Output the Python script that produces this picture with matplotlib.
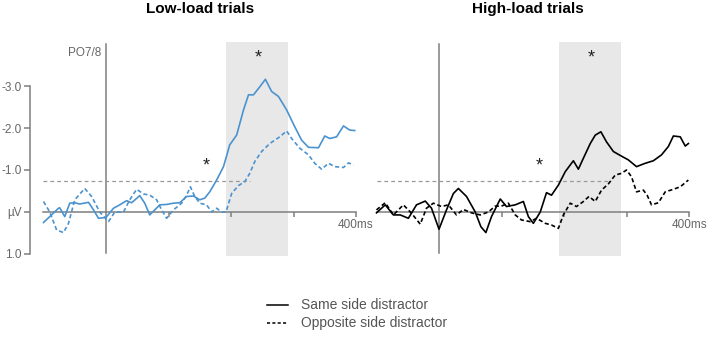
import matplotlib
matplotlib.use("Agg")
import matplotlib.pyplot as plt
from matplotlib.lines import Line2D

plt.rcParams['font.family'] = ['Liberation Sans', 'DejaVu Sans']

# ERP waveforms at PO7/8 (time in ms, amplitude in microvolts, negative up)
low_same_t = [-100, -90, -76, -74, -66, -58, -50, -42, -28, -20, -12, 0, 12, 22, 33, 41, 54, 62,
              70, 78, 86, 97, 108, 118, 129, 140, 150, 158, 166, 177, 188, 198, 209, 220, 228,
              236, 246, 255, 265, 276, 289, 302, 313, 324, 340, 350, 358, 369, 380, 390, 398]
low_same_v = [0.25, 0.11, -0.09, -0.10, 0.11, -0.21, -0.22, -0.19, -0.23, -0.05, 0.15, 0.13,
              -0.09, -0.17, -0.27, -0.22, -0.39, -0.21, 0.07, -0.05, -0.17, -0.18, -0.21, -0.22,
              -0.37, -0.38, -0.29, -0.33, -0.48, -0.76, -1.08, -1.60, -1.83, -2.43, -2.79, -2.79,
              -2.98, -3.16, -2.87, -2.75, -2.43, -2.03, -1.71, -1.54, -1.53, -1.81, -1.75, -1.79,
              -2.05, -1.95, -1.94]

low_opp_t = [-100, -90, -79, -68, -60, -50, -34, -23, -10, 4, 14, 28, 38, 49, 60, 70, 81, 89,
             97, 108, 121, 129, 135, 142, 150, 161, 169, 177, 185, 192, 201, 212, 222, 230, 238,
             249, 262, 278, 289, 297, 310, 324, 334, 345, 356, 366, 380, 388, 396]
low_opp_v = [-0.25, 0.0, 0.43, 0.49, 0.27, -0.29, -0.56, -0.37, 0.0, 0.23, 0.0, 0.0, -0.29,
             -0.54, -0.43, -0.40, -0.29, -0.05, 0.15, -0.05, -0.21, -0.40, -0.60, -0.37, -0.21,
             -0.17, 0.0, -0.09, 0.0, 0.0, -0.44, -0.63, -0.72, -0.92, -1.20, -1.44, -1.63, -1.79,
             -1.93, -1.75, -1.52, -1.36, -1.16, -1.02, -1.16, -1.08, -1.06, -1.17, -1.12]

high_same_t = [-100, -86, -73, -62, -49, -36, -22, -12, 0, 12, 23, 31, 44, 58, 67, 75, 84, 98,
               108, 122, 135, 143, 151, 162, 172, 180, 191, 202, 215, 223, 231, 242, 250, 259,
               268, 279, 292, 303, 316, 330, 343, 356, 367, 375, 386, 394, 399]
high_same_v = [0.02, -0.17, 0.07, 0.07, 0.15, -0.17, -0.26, -0.09, 0.41, -0.05, -0.44, -0.56,
               -0.37, 0.0, 0.35, 0.49, 0.11, -0.31, -0.13, -0.17, -0.25, 0.11, 0.27, 0.0, -0.46,
               -0.40, -0.64, -0.96, -1.22, -1.02, -1.28, -1.63, -1.83, -1.91, -1.67, -1.44, -1.33,
               -1.24, -1.08, -1.16, -1.22, -1.36, -1.56, -1.81, -1.79, -1.57, -1.63]

high_opp_t = [-100, -86, -73, -57, -44, -30, -20, -9, 4, 15, 28, 39, 52, 66, 79, 90, 100, 111,
              122, 132, 146, 156, 170, 180, 191, 199, 210, 220, 231, 240, 250, 260, 271, 282,
              292, 300, 308, 316, 327, 333, 340, 351, 362, 375, 386, 399]
high_opp_v = [-0.05, -0.22, 0.07, -0.17, 0.03, 0.29, -0.09, -0.21, -0.13, -0.17, 0.07, -0.06,
              0.02, 0.07, 0.0, -0.14, -0.14, -0.21, 0.07, 0.19, 0.23, 0.15, 0.27, 0.31, 0.39,
              0.07, -0.21, -0.13, -0.25, -0.37, -0.25, -0.52, -0.67, -0.88, -0.92, -1.00, -0.84,
              -0.48, -0.52, -0.40, -0.17, -0.22, -0.48, -0.54, -0.60, -0.76]

y_ticks = [1, 0, -1, -2, -3]
y_labels = ['1.0', 'µV', '-1.0', '-2.0', '-3.0']
x_ticks = [100, 200, 300, 400]
window = (192, 291)
threshold = -0.73
threshold_end = {'low': 230, 'high': 275}

blue = '#4b93cf'
grey = '#7f7f7f'

fig = plt.figure(figsize=(7.09, 3.44), dpi=100)
ax1 = fig.add_axes([30 / 709, 88 / 344, 336 / 709, 214 / 344])
ax2 = fig.add_axes([366 / 709, 88 / 344, 343 / 709, 214 / 344])


def draw_panel(ax, same_t, same_v, opp_t, opp_v, color, thr_end, xlim):
    ax.patch.set_visible(False)
    ax.set_xlim(*xlim)
    ax.set_ylim(1.048, -4.048)
    ax.axvspan(window[0], window[1], color='#e8e8e8', lw=0, zorder=0)
    ax.plot([-100, 400], [0, 0], color=grey, lw=1.1, zorder=1)
    ax.plot([0, 0], [0.98, -4.0], color=grey, lw=1.1, zorder=1)
    ax.vlines(x_ticks, 0, 0.13, color=grey, lw=1.1, zorder=1)
    ax.plot([-100, thr_end], [threshold, threshold], color='#999999', lw=0.9,
            dashes=(3, 2.5), zorder=2)
    ax.plot(same_t, same_v, color=color, lw=1.2, zorder=3)
    ax.plot(opp_t, opp_v, color=color, lw=1.2, dashes=(2.5, 1.6), zorder=3)
    ax.text(400, 0.3, '400ms', ha='center', va='center', fontsize=8.5, color='#666666',
            clip_on=False)
    ax.text(160, -1.1, '*', ha='center', va='center', fontsize=13, color='#222222')
    ax.text(243, -3.67, '*', ha='center', va='center', fontsize=13, color='#222222')
    ax.set_xticks([])
    for s in ['top', 'right', 'bottom']:
        ax.spines[s].set_visible(False)


draw_panel(ax1, low_same_t, low_same_v, low_opp_t, low_opp_v, blue, threshold_end['low'],
           (-121.6, 416))
draw_panel(ax2, high_same_t, high_same_v, high_opp_t, high_opp_v, 'black', threshold_end['high'],
           (-116.8, 432))

ax1.spines['left'].set_bounds(1, -3)
ax1.spines['left'].set_color(grey)
ax1.spines['left'].set_linewidth(1.1)
ax1.set_yticks(y_ticks)
ax1.set_yticklabels(y_labels)
ax1.tick_params(axis='y', length=4, width=1.1, color=grey, labelcolor='#666666',
                labelsize=8.5, pad=2)
ax1.text(-8, -3.79, 'PO7/8', ha='right', va='center', fontsize=8.5, color='#666666')

ax2.spines['left'].set_visible(False)
ax2.set_yticks([])

fig.text(200 / 709, 1 - 9 / 344, 'Low-load trials', ha='center', va='center',
         fontsize=11, fontweight='bold')
fig.text(528 / 709, 1 - 9 / 344, 'High-load trials', ha='center', va='center',
         fontsize=11, fontweight='bold')

# legend
fig.add_artist(Line2D([267 / 709, 288 / 709], [1 - 305 / 344] * 2, color='black', lw=1.1))
fig.add_artist(Line2D([267 / 709, 288 / 709], [1 - 323 / 344] * 2, color='black', lw=1.1,
                      dashes=(2, 1.5)))
fig.text(301 / 709, 1 - 305 / 344, 'Same side distractor', va='center', fontsize=10,
         color='#555555')
fig.text(301 / 709, 1 - 323 / 344, 'Opposite side distractor', va='center', fontsize=10,
         color='#555555')

fig.savefig('out.png', dpi=100)
